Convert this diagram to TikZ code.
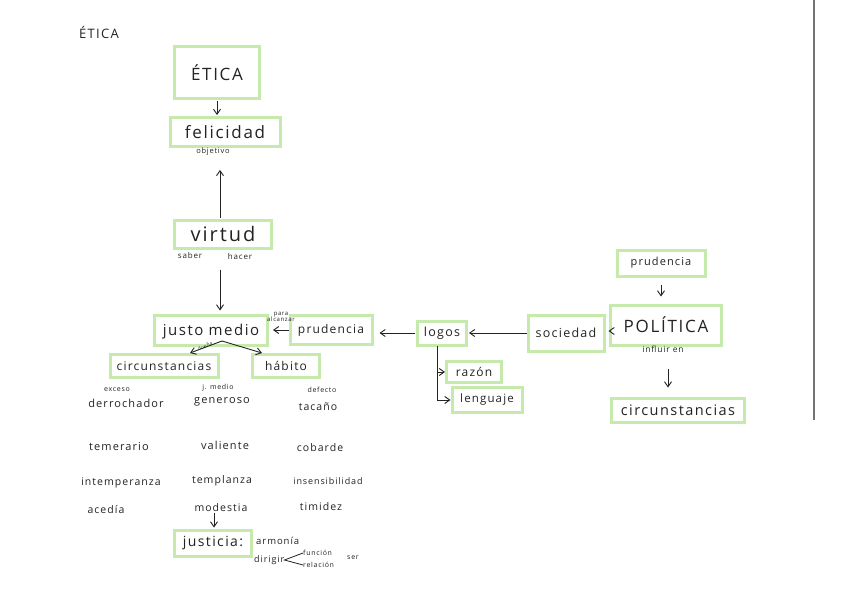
\documentclass[tikz,border=0pt]{standalone}
\usepackage{fontspec}
\setmainfont{Open Sans}
\newfontfamily\hand[LetterSpace=10]{Open Sans}
\usetikzlibrary{arrows.meta}
\definecolor{boxgreen}{RGB}{198,234,172}
\definecolor{ink}{RGB}{35,35,35}
\tikzset{
  gbox/.style={draw=boxgreen, line width=3pt, inner sep=0pt, text=ink},
  fs/.style={font=\hand\fontsize{#1}{#1}\selectfont, text=ink},
  lbl/.style={inner sep=0pt, text=ink},
  arr/.style={-{Straight Barb[length=5pt,width=7pt]}, line width=0.9pt, draw=ink},
}
\begin{document}
\begin{tikzpicture}[x=1pt,y=-1pt]
\useasboundingbox (0,0) rectangle (848,599);
\fill[white] (0,0) rectangle (848,599);
% scan edge
\draw[black!55, line width=1.5pt] (814,0) -- (814,420);

% title
\node[lbl, fs=13] (title) at (99,33) {ÉTICA};

% boxes
\node[gbox, minimum width=85, minimum height=52, fs=17] (etica) at (217,73) {ÉTICA};
\node[gbox, minimum width=110, minimum height=29, fs=17] (felicidad) at (225,132) {felicidad};
\node[lbl, fs=7.5] (obj) at (213,152) {objetivo};
\node[gbox, minimum width=97, minimum height=28, fs=20] (virtud) at (223,234) {virtud};
\node[lbl, fs=8] (saber) at (190,255) {saber};
\node[lbl, fs=8] (hacer) at (240,256) {hacer};
\node[gbox, minimum width=113, minimum height=30, fs=15, text depth=0pt] (justo) at (211,330) {justo medio};
\node[gbox, minimum width=82, minimum height=29, fs=12] (prud) at (331,330) {prudencia};
\node[lbl, fs=6, align=center] (para) at (281,317) {para\\alcanzar};
\node[gbox, minimum width=49, minimum height=24, fs=12.5] (logos) at (442,333) {logos};
\node[gbox, minimum width=76, minimum height=36, fs=12.5] (soc) at (566,333) {sociedad};
\node[gbox, minimum width=111, minimum height=40, fs=17] (pol) at (666,325) {POLÍTICA};
\node[lbl, fs=8.5] (influir) at (663,349) {influir en};
\node[gbox, minimum width=88, minimum height=26, fs=11] (prudR) at (661,263) {prudencia};
\node[gbox, minimum width=133, minimum height=24, fs=14.5] (circR) at (678,410) {circunstancias};
\node[gbox, minimum width=55, minimum height=21, fs=12] (razon) at (474,372) {razón};
\node[gbox, minimum width=70, minimum height=25, fs=11.5] (lenguaje) at (487,400) {lenguaje};
\node[gbox, minimum width=108, minimum height=23, fs=12] (circL) at (164,366) {circunstancias};
\node[gbox, minimum width=67, minimum height=23, fs=12] (habito) at (286,366) {hábito};
\node[lbl, fs=4.5, rotate=25] (duena) at (205,346) {dueña};

% table
\node[lbl, fs=7] (exceso) at (117,390) {exceso};
\node[lbl, fs=7] (jmedio) at (218,388) {j. medio};
\node[lbl, fs=7] (defecto) at (322,390) {defecto};
\node[lbl, fs=11] (derroch) at (126,403) {derrochador};
\node[lbl, fs=11] (generoso) at (222,402) {generoso};
\node[lbl, fs=10.5] (tacano) at (318,407) {tacaño};
\node[lbl, fs=11] (temerario) at (119,447) {temerario};
\node[lbl, fs=11] (valiente) at (225,445) {valiente};
\node[lbl, fs=10.5] (cobarde) at (320,448) {cobarde};
\node[lbl, fs=10.5] (intemp) at (121,483) {intemperanza};
\node[lbl, fs=10.5] (templanza) at (222,481) {templanza};
\node[lbl, fs=9] (insens) at (328,481) {insensibilidad};
\node[lbl, fs=10.5] (acedia) at (106,510) {acedía};
\node[lbl, fs=10.5] (modestia) at (221,508) {modestia};
\node[lbl, fs=10.5] (timidez) at (321,507) {timidez};

% justicia
\node[gbox, minimum width=77, minimum height=26, fs=14] (justicia) at (213,543) {justicia:};
\node[lbl, fs=9.5, anchor=west] (armonia) at (256,541) {armonía};
\node[lbl, fs=9, anchor=west] (dirigir) at (254,560) {dirigir};
\node[lbl, fs=7, anchor=west] (funcion) at (303,553) {función};
\node[lbl, fs=7, anchor=west] (relacion) at (303,565) {relación};
\node[lbl, fs=7] (ser) at (353,558) {ser};
\draw[ink, line width=0.8pt] (funcion.west) -- (dirigir.east) -- (relacion.west);

% connectors
\draw[arr, shorten <=1pt, shorten >=1pt] (etica.south) -- (etica.south |- felicidad.north);
\draw[arr, shorten <=1pt, shorten >=14pt] ([xshift=-3pt]virtud.north) -- ([xshift=-3pt]virtud.north |- obj.south);
\draw[arr, shorten <=20pt, shorten >=3pt] ([xshift=-3pt]virtud.south) -- ([xshift=-3pt]virtud.south |- justo.north);
\draw[arr, shorten >=4pt] (prud.west) -- (justo.east);
\draw[arr, shorten >=6pt, shorten <=1pt] (logos.west) -- (logos.west -| prud.east);
\draw[arr, shorten >=1pt] (soc.west |- logos.center) -- (logos.east);
\draw[arr, shorten >=3pt, shorten <=1pt] (pol.west |- 0,331) -- (soc.east |- 0,331);
\draw[arr, shorten <=7pt, shorten >=7pt] (prudR.south) -- (prudR.south |- pol.north);
\draw[arr, shorten <=22pt, shorten >=9pt] ([xshift=2pt]pol.south) -- ([xshift=2pt]pol.south |- circR.north);
\coordinate (lg) at (437,346);
\draw[arr] (lg) |- (lenguaje.west);
\draw[arr] (lg |- razon.west) -- (razon.west);
\coordinate (jm) at (222,341);
\draw[arr] (jm) -- ([xshift=26pt]circL.north);
\draw[arr] (jm) -- ([xshift=-24pt]habito.north);
\draw[arr, shorten <=1pt, shorten >=1pt] ([xshift=-7pt]modestia.south) -- ([xshift=1pt]justicia.north);
\end{tikzpicture}
\end{document}
